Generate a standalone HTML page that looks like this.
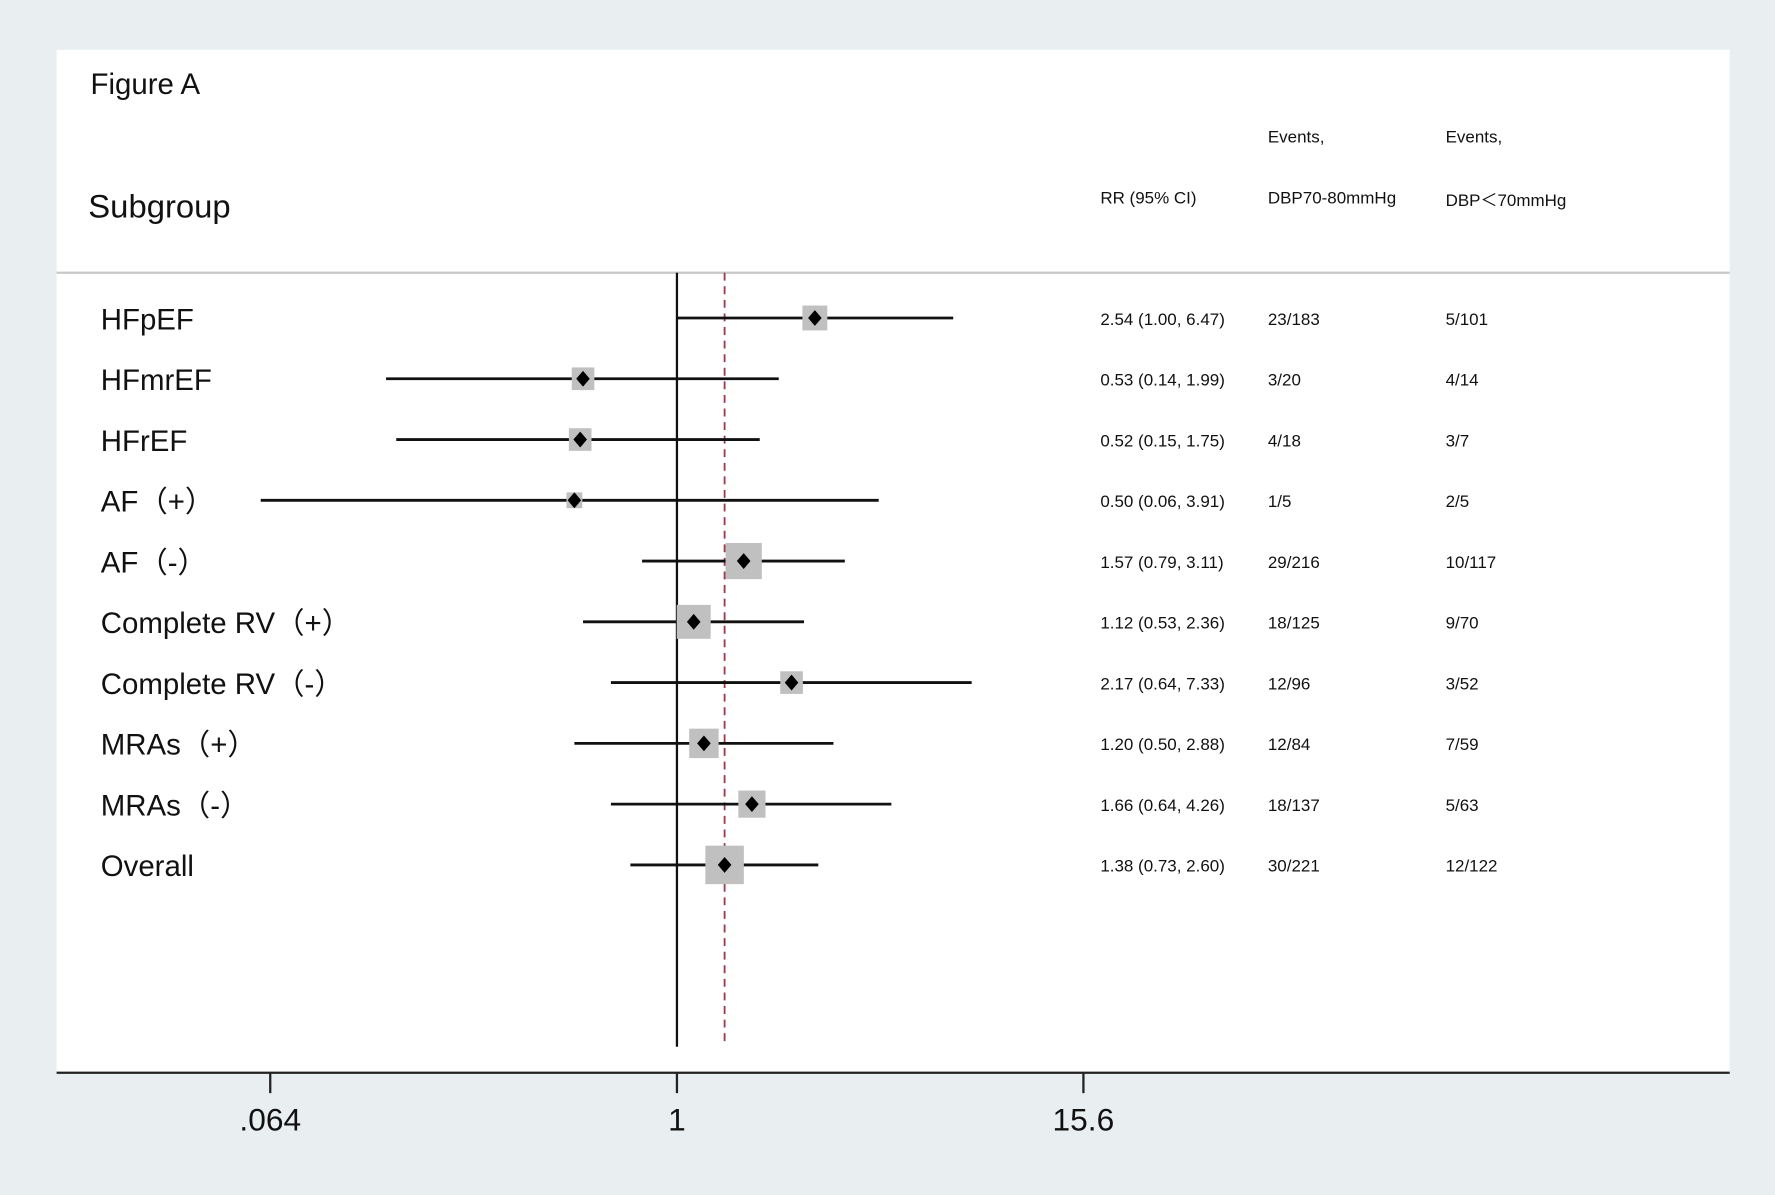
<!DOCTYPE html>
<html><head><meta charset="utf-8"><style>
html,body{margin:0;padding:0;background:#e9eef1;}
svg{display:block;}
text{font-family:"Liberation Sans",Arial,sans-serif;fill:#111;}
</style></head><body>
<svg id="chart" width="1775" height="1195" viewBox="0 0 1568 1056" preserveAspectRatio="none" xmlns="http://www.w3.org/2000/svg">
<rect x="0" y="0" width="1568" height="1056" fill="#e9eef1"/>
<rect x="50" y="44" width="1478" height="904" fill="#ffffff"/>
<text x="80" y="83" font-size="26">Figure A</text>
<text x="78" y="192" font-size="29">Subgroup</text>
<text x="972" y="180" font-size="15">RR (95% CI)</text>
<text x="1120" y="126" font-size="15">Events,</text>
<text x="1120" y="180" font-size="15">DBP70-80mmHg</text>
<text x="1277" y="126" font-size="15">Events,</text>
<text x="1277" y="182" font-size="15">DBP＜70mmHg</text>
<line x1="50" y1="241" x2="1528" y2="241" stroke="#c8c8c8" stroke-width="2"/>
<g id="marks"></g>
<line x1="50" y1="948" x2="1528" y2="948" stroke="#222" stroke-width="2"/>
<g id="ticks"></g>
</svg>
<script>
const labels=["HFpEF","HFmrEF","HFrEF","AF（+)","AF（-)","Complete RV（+)","Complete RV（-)","MRAs（+)","MRAs（-)","Overall"];
const labelText=["HFpEF","HFmrEF","HFrEF","AF（+）","AF（-）","Complete RV（+）","Complete RV（-）","MRAs（+）","MRAs（-）","Overall"];
const rr=[2.54,0.53,0.52,0.50,1.57,1.12,2.17,1.20,1.66,1.38];
const lower=[1.00,0.14,0.15,0.06,0.79,0.53,0.64,0.50,0.64,0.73];
const upper=[6.47,1.99,1.75,3.91,3.11,2.36,7.33,2.88,4.26,2.60];
const weights=[22,20,20,14,32,30,20,26,24,34];
const rrText=["2.54 (1.00, 6.47)","0.53 (0.14, 1.99)","0.52 (0.15, 1.75)","0.50 (0.06, 3.91)","1.57 (0.79, 3.11)","1.12 (0.53, 2.36)","2.17 (0.64, 7.33)","1.20 (0.50, 2.88)","1.66 (0.64, 4.26)","1.38 (0.73, 2.60)"];
const ev1=["23/183","3/20","4/18","1/5","29/216","18/125","12/96","12/84","18/137","30/221"];
const ev2=["5/101","4/14","3/7","2/5","10/117","9/70","3/52","7/59","5/63","12/122"];
const tickVals=[0.064,1,15.6];
const tickLabels=[".064","1","15.6"];
const overallRR=1.38;

const NS="http://www.w3.org/2000/svg";
const x=v=>598+130.7*Math.log(v);
const y=i=>281+53.7*i;
function mk(tag,attrs,parent,txt){const e=document.createElementNS(NS,tag);for(const k in attrs)e.setAttribute(k,attrs[k]);if(txt!==undefined)e.textContent=txt;parent.appendChild(e);return e;}
const g=document.getElementById('marks');
let e=mk('line',{x1:x(1),y1:241,x2:x(1),y2:925,stroke:'#111','stroke-width':2},g);


e=mk('line',{x1:x(overallRR),y1:241,x2:x(overallRR),y2:925,stroke:'#9b3a4a','stroke-width':1.6,'stroke-dasharray':'7,5'},g);


labels.forEach((l,i)=>{
  const yy=y(i);
  let t=mk('text',{x:89,y:yy+10,'font-size':26},g,labelText[i]);
  
  
  let ci=mk('line',{x1:x(lower[i]),y1:yy,x2:x(upper[i]),y2:yy,stroke:'#111','stroke-width':2.5},g);
  
  
  const w=weights[i];
  let b=mk('rect',{x:x(rr[i])-w/2,y:yy-w/2,width:w,height:w,fill:'#c0c0c0'},g);
  
  
  const cx=x(rr[i]);
  let d=mk('polygon',{points:`${cx},${yy-7} ${cx+6},${yy} ${cx},${yy+7} ${cx-6},${yy}`,fill:'#000'},g);
  
  
  let a=mk('text',{x:972,y:yy+6,'font-size':15},g,rrText[i]);
  
  
  let b1=mk('text',{x:1120,y:yy+6,'font-size':15},g,ev1[i]);
  
  
  let b2=mk('text',{x:1277,y:yy+6,'font-size':15},g,ev2[i]);
  
  
});
const tg=document.getElementById('ticks');
tickVals.forEach((v,i)=>{
  let tk=mk('line',{x1:x(v),y1:948,x2:x(v),y2:966,stroke:'#222','stroke-width':2},tg);
  
  
  let tl=mk('text',{x:x(v),y:999,'font-size':28,'text-anchor':'middle'},tg,tickLabels[i]);
  
  
});
</script>
</body></html>
